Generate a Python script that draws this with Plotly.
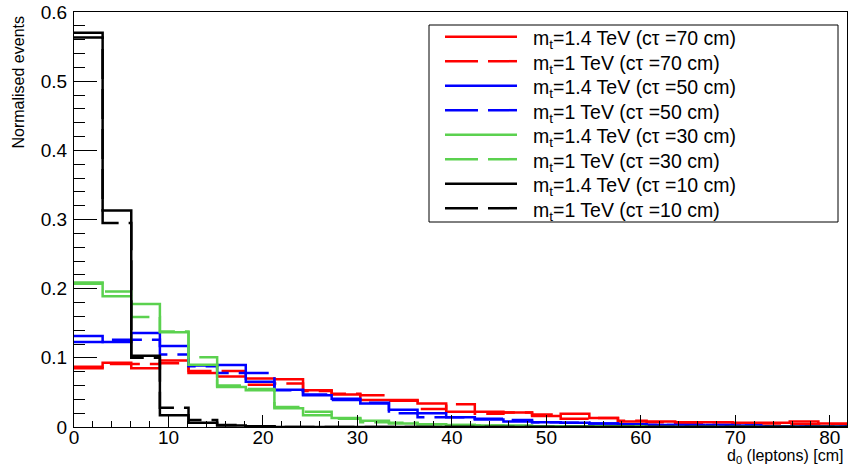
import plotly.graph_objects as go

# Bin layout: 33 bins over [0,100], shown up to 27 bins
n_bins_shown = 27
bin_width = 100 / 33

series_names = [
    "m<sub>t</sub>=1.4 TeV (cτ =70 cm)",
    "m<sub>t</sub>=1 TeV (cτ =70 cm)",
    "m<sub>t</sub>=1.4 TeV (cτ =50 cm)",
    "m<sub>t</sub>=1 TeV (cτ =50 cm)",
    "m<sub>t</sub>=1.4 TeV (cτ =30 cm)",
    "m<sub>t</sub>=1 TeV (cτ =30 cm)",
    "m<sub>t</sub>=1.4 TeV (cτ =10 cm)",
    "m<sub>t</sub>=1 TeV (cτ =10 cm)",
]

red_14 = [0.087, 0.093, 0.085, 0.096, 0.078, 0.073, 0.070, 0.069, 0.053, 0.047,
          0.039, 0.039, 0.034, 0.022, 0.022, 0.021, 0.016, 0.019, 0.013, 0.008,
          0.008, 0.007, 0.007, 0.006, 0.006, 0.008, 0.005]
red_10 = [0.085, 0.091, 0.091, 0.092, 0.081, 0.081, 0.061, 0.063, 0.052, 0.048,
          0.046, 0.038, 0.026, 0.033, 0.019, 0.021, 0.018, 0.012, 0.013, 0.009,
          0.007, 0.006, 0.007, 0.005, 0.005, 0.004, 0.004]
blue_14 = [0.1315, 0.123, 0.136, 0.117, 0.089, 0.0896, 0.0655, 0.054, 0.046, 0.041,
           0.034, 0.025, 0.020, 0.014, 0.011, 0.008, 0.007, 0.006, 0.005, 0.004,
           0.003, 0.003, 0.002, 0.002, 0.001, 0.001, 0.001]
blue_10 = [0.123, 0.126, 0.126, 0.105, 0.088, 0.078, 0.078, 0.053, 0.047, 0.039,
           0.035, 0.020, 0.014, 0.014, 0.012, 0.010, 0.007, 0.006, 0.005, 0.004,
           0.003, 0.002, 0.003, 0.002, 0.001, 0.001, 0.001]
green_14 = [0.207, 0.189, 0.178, 0.137, 0.090, 0.058, 0.053, 0.027, 0.017, 0.013,
            0.009, 0.005, 0.004, 0.003, 0.002, 0.002, 0.001, 0.001, 0.001, 0.001,
            0.0, 0.0, 0.0, 0.0, 0.0, 0.0, 0.0]
green_10 = [0.209, 0.196, 0.159, 0.138, 0.101, 0.060, 0.055, 0.029, 0.022, 0.012,
            0.007, 0.006, 0.004, 0.003, 0.002, 0.001, 0.001, 0.0, 0.0, 0.0,
            0.0, 0.0, 0.0, 0.0, 0.0, 0.0, 0.0]
black_14 = [0.570, 0.313, 0.103, 0.017, 0.006, 0.002, 0.001, 0.0, 0.0, 0.0,
            0.0, 0.0, 0.0, 0.0, 0.0, 0.0, 0.0, 0.0, 0.0, 0.0,
            0.0, 0.0, 0.0, 0.0, 0.0, 0.0, 0.0]
black_10 = [0.563, 0.295, 0.100, 0.028, 0.010, 0.003, 0.001, 0.0, 0.0, 0.0,
            0.0, 0.0, 0.0, 0.0, 0.0, 0.0, 0.0, 0.0, 0.0, 0.0,
            0.0, 0.0, 0.0, 0.0, 0.0, 0.0, 0.0]

all_values = [red_14, red_10, blue_14, blue_10, green_14, green_10, black_14, black_10]
colors = ["#ff0000", "#ff0000", "#0000ff", "#0000ff", "#5bd14f", "#5bd14f", "#000000", "#000000"]
dash_style = "30px,10px"
dashes = ["solid", dash_style] * 4

x_tick_vals = [0, 10, 20, 30, 40, 50, 60, 70, 80]
y_tick_vals = [0, 0.1, 0.2, 0.3, 0.4, 0.5, 0.6]
y_tick_text = ["0", "0.1", "0.2", "0.3", "0.4", "0.5", "0.6"]

edges = [i * bin_width for i in range(n_bins_shown + 1)]

fig = go.Figure()
for name, vals, col, dsh in zip(series_names, all_values, colors, dashes):
    fig.add_trace(go.Scatter(
        x=edges,
        y=list(vals) + [vals[-1]],
        mode="lines",
        line=dict(shape="hv", color=col, width=2.5, dash=dsh),
        name=name,
        showlegend=False,
    ))

font_family = "Liberation Sans, Arial, sans-serif"

PW, PH = 773, 415          # plot area in px
PL, PT = 74, 12            # plot area left/top in the screenshot


def px_x(px):
    return (px - PL) / PW


def px_y(py):
    return (PT + PH - py) / PH


fig.update_layout(
    width=849, height=468,
    margin=dict(l=74, r=2, t=12, b=41, autoexpand=False),
    paper_bgcolor="white", plot_bgcolor="white",
    font=dict(family=font_family, color="black", size=19),
    showlegend=False,
    xaxis=dict(
        range=[0, n_bins_shown * bin_width],
        tickvals=x_tick_vals,
        ticks="inside", ticklen=12, tickwidth=1, tickcolor="black",
        showline=True, linecolor="black", linewidth=1, mirror=True,
        showgrid=False, zeroline=False, automargin=False,
        tickfont=dict(size=19), ticklabelstandoff=-7,
        ticklabeloverflow="allow",
        minor=dict(dtick=2, ticks="inside", ticklen=6, tickcolor="black", showgrid=False),
    ),
    yaxis=dict(
        range=[0, 0.6],
        tickvals=y_tick_vals, ticktext=y_tick_text,
        ticks="inside", ticklen=23, tickwidth=1, tickcolor="black",
        showline=True, linecolor="black", linewidth=1, mirror=True,
        showgrid=False, zeroline=False, automargin=False,
        tickfont=dict(size=19), ticklabelstandoff=2,
        ticklabeloverflow="allow",
        minor=dict(dtick=0.02, ticks="inside", ticklen=11, tickcolor="black", showgrid=False),
    ),
)

# Axis titles
fig.add_annotation(
    text="Normalised events", textangle=-90,
    xref="paper", yref="paper",
    x=px_x(18), y=px_y(14), xanchor="center", yanchor="top",
    showarrow=False, font=dict(size=16),
)
fig.add_annotation(
    text="d<sub>0</sub> (leptons) [cm]",
    xref="paper", yref="paper",
    x=px_x(846), y=px_y(456), xanchor="right", yanchor="middle",
    showarrow=False, font=dict(size=16),
)

# Legend box (ROOT style)
fig.add_shape(type="rect", xref="paper", yref="paper",
              x0=px_x(429), x1=px_x(838), y0=px_y(222), y1=px_y(25),
              line=dict(color="black", width=1), fillcolor="white", layer="above")
for i, (name, col, dsh) in enumerate(zip(series_names, colors, dashes)):
    yc = 36.7 + 24.5 * i
    fig.add_shape(type="line", xref="paper", yref="paper",
                  x0=px_x(445), x1=px_x(517), y0=px_y(yc), y1=px_y(yc),
                  line=dict(color=col, width=2.5, dash="33px,10px" if dsh != "solid" else "solid"),
                  layer="above")
    fig.add_annotation(
        text=name, xref="paper", yref="paper",
        x=px_x(531), y=px_y(yc + 3), xanchor="left", yanchor="middle",
        showarrow=False, font=dict(size=19.5),
    )

fig.write_html(
    "out.html",
    config={"displayModeBar": False},
    post_script="document.body.style.margin='0';document.body.style.overflow='hidden';",
)
